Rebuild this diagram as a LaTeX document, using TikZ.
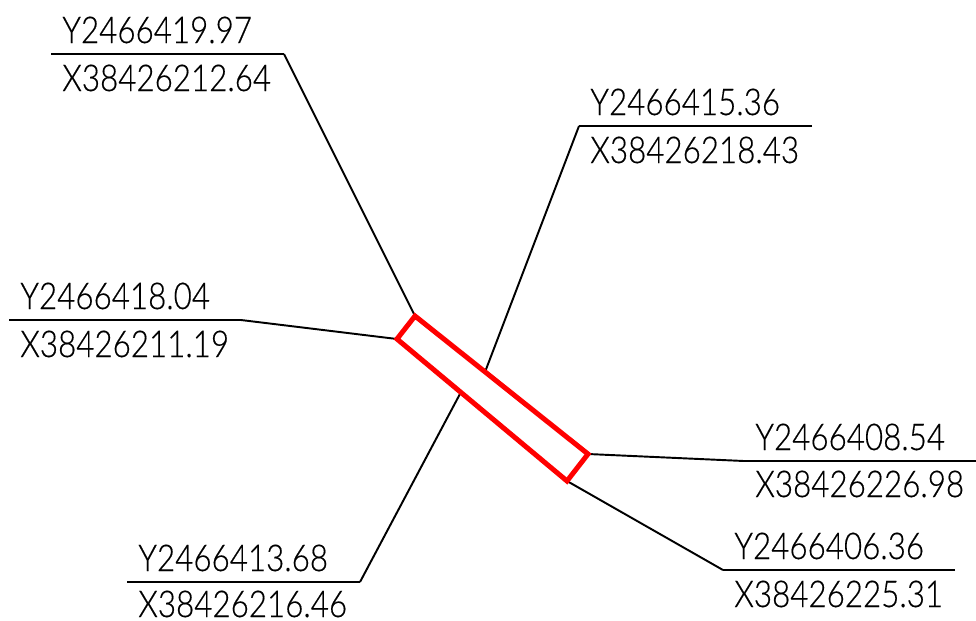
\documentclass[tikz,border=0pt]{standalone}
\usepackage{fontspec}
\setmainfont[FakeStretch=0.85,FakeBold=0.4]{Lato Light}
\usepackage{tikz}
\tikzset{
    leader/.style = {
       draw=black,
       line width=1.1pt
    },
    coord/.style = {
       anchor=base west,
       inner sep=0pt,
       font=\fontsize{21pt}{21pt}\selectfont
    },
    plate/.style = {
       draw=red,
       line width=1mm,
       line join=miter
    }
}
\begin{document}
\begin{tikzpicture}[x=.02cm,y=-.02cm]
   \useasboundingbox (0,0) rectangle (976,620);
   % corners of the plate
   \coordinate (PlateA) at (415,316);
   \coordinate (PlateB) at (588,454);
   \coordinate (PlateC) at (567,481);
   \coordinate (PlateD) at (397,339);
   % crossing line, hidden behind the plate
   \coordinate (CrossTop) at (485,372);
   \coordinate (CrossBottom) at (461,392);
   % upper left
   \coordinate (A1) at (51,54);
   \coordinate (A2) at (284,54);
   \node[coord] (YA) at (62,43) {Y2466419.97};
   \node[coord] (XA) at (62,91) {X38426212.64};
   % left
   \coordinate (B1) at (9,320);
   \coordinate (B2) at (241,320);
   \node[coord] (YB) at (20,309) {Y2466418.04};
   \node[coord] (XB) at (20,357) {X38426211.19};
   % upper right
   \coordinate (C1) at (812,126);
   \coordinate (C2) at (579,126);
   \node[coord] (YC) at (590,115) {Y2466415.36};
   \node[coord] (XC) at (590,163) {X38426218.43};
   % lower left
   \coordinate (D1) at (127,582);
   \coordinate (D2) at (360,582);
   \node[coord] (YD) at (138,571) {Y2466413.68};
   \node[coord] (XD) at (138,617) {X38426216.46};
   % right
   \coordinate (E1) at (976,461);
   \coordinate (E2) at (744,461);
   \node[coord] (YE) at (755,450) {Y2466408.54};
   \node[coord] (XE) at (755,497) {X38426226.98};
   % lower right
   \coordinate (F1) at (955,570);
   \coordinate (F2) at (723,570);
   \node[coord] (YF) at (734,559) {Y2466406.36};
   \node[coord] (XF) at (734,607) {X38426225.31};
\path[leader]
(A1) edge (A2)
(A2) edge (PlateA)
(B1) edge (B2)
(B2) edge (PlateD)
(C1) edge (C2)
(C2) edge (CrossTop)
(D1) edge (D2)
(D2) edge (CrossBottom)
(E1) edge (E2)
(E2) edge (PlateB)
(F1) edge (F2)
(F2) edge (PlateC);
\draw[plate] (PlateA) -- (PlateB) -- (PlateC) -- (PlateD) -- cycle;
\end{tikzpicture}
\end{document}
